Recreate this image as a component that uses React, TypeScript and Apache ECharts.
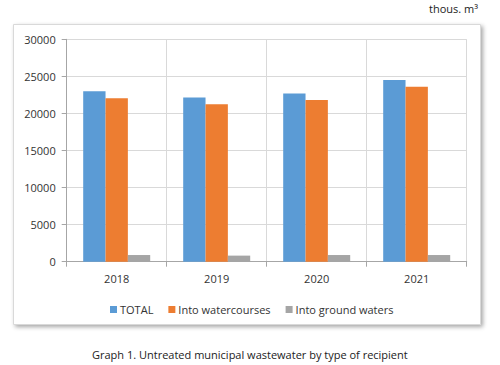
import React, { useEffect, useRef } from "react";
import * as echarts from "echarts";

const years = ["2018", "2019", "2020", "2021"];
const total = [23000, 22150, 22700, 24500];
const watercourses = [22050, 21250, 21800, 23600];
const groundWaters = [900, 820, 900, 900];
const seriesNames = ["TOTAL", "Into watercourses", "Into ground waters"];
const colors = ["#5B9BD5", "#ED7D31", "#A5A5A5"];
const unitLabel = "thous. m³";
const caption = "Graph 1. Untreated municipal wastewater by type of recipient";

const FONT = "'Open Sans', sans-serif";

export default function App() {
  const ref = useRef<HTMLDivElement>(null);
  useEffect(() => {
    if (!ref.current) return;
    const chart = echarts.init(ref.current, undefined, { renderer: "svg" });
    const dataSets = [total, watercourses, groundWaters];
    chart.setOption({
      animation: false,
      textStyle: { fontFamily: FONT },
      graphic: [
        {
          type: "rect",
          z: -10,
          silent: true,
          shape: { x: 13.5, y: 24.5, width: 467, height: 300 },
          style: {
            fill: "#ffffff",
            stroke: "#d9d9d9",
            lineWidth: 1,
            shadowBlur: 4,
            shadowOffsetX: 2,
            shadowOffsetY: 2,
            shadowColor: "rgba(0,0,0,0.35)",
          },
        },
        {
          type: "text",
          right: 22,
          top: 3,
          style: { text: unitLabel, font: `11px ${FONT}`, fill: "#222" },
        },
        {
          type: "text",
          left: 92,
          top: 349,
          style: { text: caption, font: `11px ${FONT}`, fill: "#222" },
        },
      ],
      grid: { left: 66.7, right: 33.3, top: 39.3, bottom: 103.3 },
      legend: {
        left: 105,
        top: 299,
        itemWidth: 7,
        itemHeight: 7,
        itemGap: 15,
        icon: "rect",
        textStyle: { fontSize: 11, color: "#333", fontFamily: FONT, padding: [0, 0, 0, -2] },
        data: seriesNames,
      },
      xAxis: {
        type: "category",
        data: years,
        axisLine: { lineStyle: { color: "#a6a6a6" } },
        axisTick: { show: true, length: 5, lineStyle: { color: "#a6a6a6" } },
        splitLine: { show: true, lineStyle: { color: "#d9d9d9" } },
        axisLabel: { fontSize: 11, color: "#333", margin: 11 },
      },
      yAxis: {
        type: "value",
        min: 0,
        max: 30000,
        interval: 5000,
        axisLine: { show: true, lineStyle: { color: "#a6a6a6" } },
        axisTick: { show: true, length: 5, lineStyle: { color: "#a6a6a6" } },
        splitLine: { show: true, lineStyle: { color: "#d9d9d9" } },
        axisLabel: { fontSize: 11, color: "#333", margin: 11, formatter: (v: number) => String(v) },
      },
      series: seriesNames.map((name, i) => ({
        name,
        type: "bar",
        data: dataSets[i],
        barGap: "0%",
        barCategoryGap: "33%",
        itemStyle: { color: colors[i] },
      })),
    });
    return () => chart.dispose();
  }, []);
  return (
    <div
      ref={ref}
      style={{ position: "fixed", left: 0, top: 0, width: 500, height: 365, background: "#fff" }}
    />
  );
}
